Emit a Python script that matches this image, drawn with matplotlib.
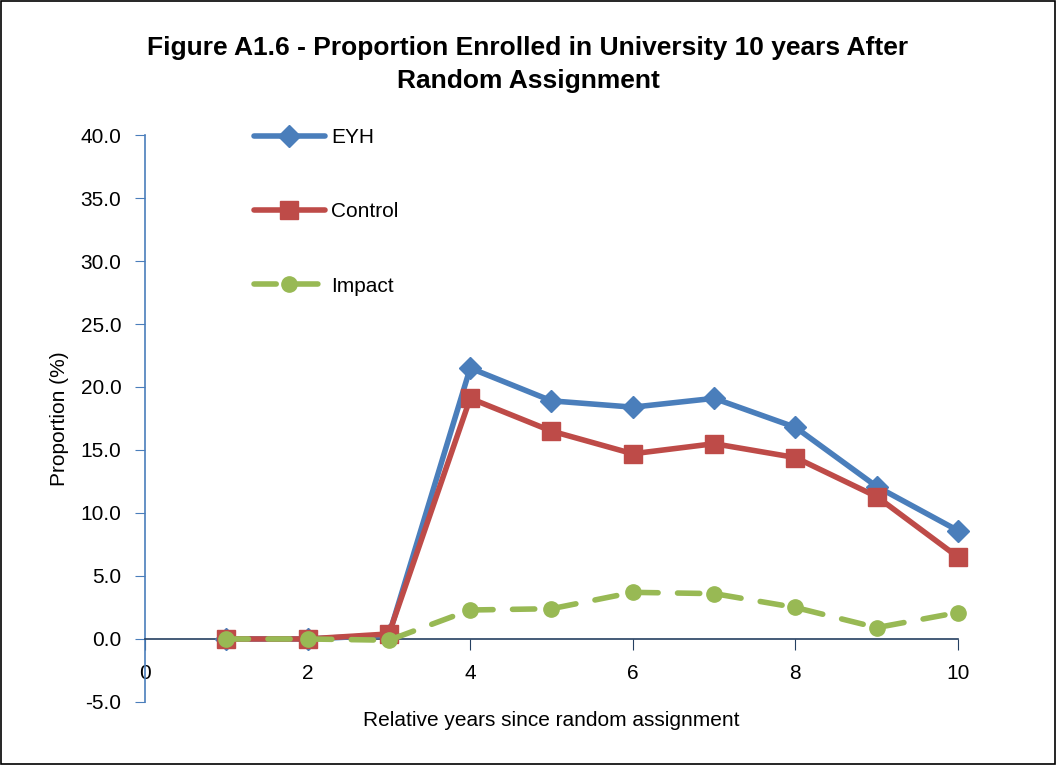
import matplotlib.pyplot as plt
from matplotlib.ticker import FormatStrFormatter, MultipleLocator
from matplotlib.patches import Rectangle

plt.rcParams['font.family'] = ['Liberation Sans Narrow', 'Liberation Sans', 'DejaVu Sans']

# data
years = [1, 2, 3, 4, 5, 6, 7, 8, 9, 10]
eyh = [0.0, 0.0, 0.3, 21.5, 18.9, 18.4, 19.1, 16.8, 12.1, 8.6]
control = [0.0, 0.0, 0.4, 19.1, 16.5, 14.7, 15.5, 14.4, 11.3, 6.5]
impact = [0.0, 0.0, -0.1, 2.3, 2.4, 3.7, 3.6, 2.5, 0.9, 2.1]

fig = plt.figure(figsize=(10.56, 7.65), dpi=100)
ax = fig.add_axes([0.1373, 0.0824, 0.7699, 0.7411])

ax.plot(years, eyh, color='#4a7ebb', lw=4, marker='D', ms=11, label='EYH',
        solid_capstyle='round', clip_on=False, zorder=3)
ax.plot(years, control, color='#be4b48', lw=4, marker='s', ms=13, label='Control',
        solid_capstyle='round', clip_on=False, zorder=4)
ax.plot(years, impact, color='#98b954', lw=4, ls=(0, (4, 3.5)), marker='o', ms=11,
        label='Impact', dash_capstyle='round', clip_on=False, zorder=5)

ax.set_xlim(0, 10)
ax.set_ylim(-5, 40)
ax.xaxis.set_major_locator(MultipleLocator(2))
ax.yaxis.set_major_locator(MultipleLocator(5))
ax.yaxis.set_major_formatter(FormatStrFormatter('%.1f'))

ax.spines['top'].set_visible(False)
ax.spines['right'].set_visible(False)
ax.spines['bottom'].set_position(('data', 0))
ax.spines['bottom'].set_color('#254061')
ax.spines['left'].set_color('#4a7ebb')
ax.spines['left'].set_linewidth(1.2)
ax.spines['bottom'].set_linewidth(1.2)

ax.tick_params(axis='y', direction='out', length=7, color='#4a7ebb', labelsize=15, pad=10)
ax.tick_params(axis='x', direction='out', length=8, color='#254061', labelsize=15, pad=10)

ax.set_xlabel('Relative years since random assignment', fontsize=15)
ax.set_ylabel('Proportion (%)', fontsize=15)
ax.xaxis.set_label_coords(0.5, -0.016)
ax.yaxis.set_label_coords(-0.094, 0.5)

fig.suptitle('Figure A1.6 - Proportion Enrolled in University 10 years After\nRandom Assignment',
             fontsize=19, fontweight='bold', x=0.50, y=0.953, linespacing=1.45)

ax.legend(loc='upper left', bbox_to_anchor=(0.111, 1.045), frameon=False, fontsize=15,
          labelspacing=2.65, handlelength=3.4, handletextpad=0.3)

fig.patches.append(Rectangle((0.001, 0.001), 0.998, 0.998, transform=fig.transFigure,
                             fill=False, edgecolor='black', lw=1.2))

fig.savefig('out.png', dpi=100)
